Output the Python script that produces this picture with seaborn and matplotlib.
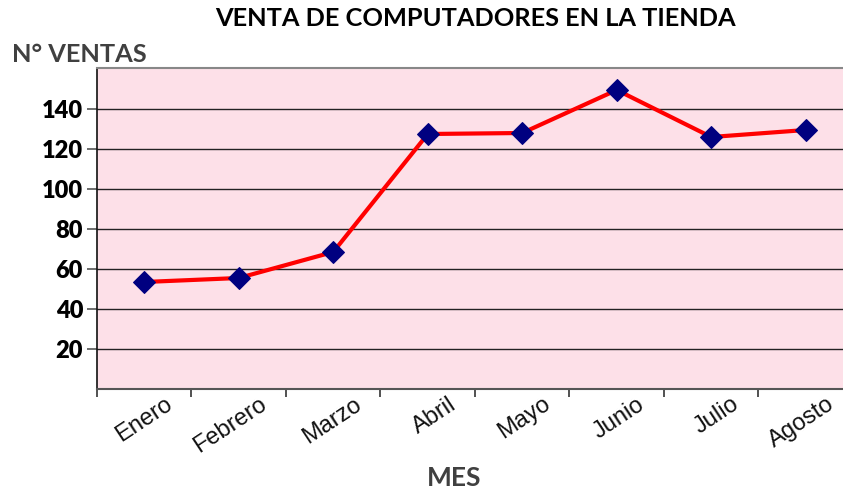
import matplotlib
matplotlib.use("Agg")
import matplotlib.pyplot as plt
import matplotlib.transforms as mtransforms
from matplotlib.ticker import FixedLocator
import seaborn as sns
import pandas as pd

meses = ["Enero", "Febrero", "Marzo", "Abril", "Mayo", "Junio", "Julio", "Agosto"]
ventas = [53.5, 55.5, 68.5, 127.5, 128, 149.5, 126, 129.5]
y_ticks = [20, 40, 60, 80, 100, 120, 140]

df = pd.DataFrame({"mes": meses, "ventas": ventas})

sns.set_theme(style="white")
plt.rcParams["font.family"] = ["Lato", "DejaVu Sans"]

fig = plt.figure(figsize=(8.43, 4.93), dpi=100)
ax = fig.add_axes([97 / 843, 104 / 493, 1 - 97 / 843, (389 - 68) / 493])
ax.set_facecolor("#fde0e8")

sns.lineplot(data=df, x="mes", y="ventas", ax=ax, color="#ff0000", linewidth=3,
             marker="D", markersize=11, markerfacecolor="#000080",
             markeredgecolor="#000080", sort=False, zorder=3)

ax.set_ylim(0, 160.5)
ax.set_xlim(-0.5, 7.5 - 10 / 94.6)
ax.set_yticks(y_ticks)
ax.set_yticklabels([str(v) for v in y_ticks], fontsize=17, fontweight="heavy", color="black")
ax.yaxis.grid(True, color="#222222", linewidth=1)
ax.set_axisbelow(True)

ax.set_xticks(range(len(meses)))
ax.set_xticklabels(meses, rotation=33.5, ha="right", rotation_mode="anchor",
                   fontsize=17, family=["Liberation Sans", "DejaVu Sans"], color="#111111")
ax.xaxis.set_minor_locator(FixedLocator([i - 0.5 for i in range(len(meses) + 1)]))
ax.tick_params(axis="x", which="major", bottom=True, length=0, pad=3)
ax.tick_params(axis="x", which="minor", bottom=True, length=6, width=1.2, color="#333333", direction="out")
ax.tick_params(axis="y", length=7, width=1.2, color="#555555", direction="out", left=True, pad=3)
offset = mtransforms.ScaledTranslation(20 / 100, 0, fig.dpi_scale_trans)
for lbl in ax.get_xticklabels():
    lbl.set_transform(lbl.get_transform() + offset)

ax.spines["left"].set_color("#111111")
ax.spines["left"].set_linewidth(1.2)
ax.spines["bottom"].set_color("#555555")
ax.spines["bottom"].set_linewidth(1.5)
ax.spines["top"].set_color("#888888")
ax.spines["top"].set_linewidth(1.5)
ax.spines["right"].set_visible(False)

ax.set_xlabel("")
ax.set_ylabel("")

fig.text(475 / 843, 1 - 18 / 493, "VENTA DE COMPUTADORES EN LA TIENDA", ha="center", va="center",
         fontsize=18.3, fontweight="bold", color="black")
fig.text(12 / 843, 1 - 54 / 493, "N° VENTAS", ha="left", va="center",
         fontsize=18.3, fontweight="bold", color="#404040")
fig.text(454 / 843, 1 - 478 / 493, "MES", ha="center", va="center",
         fontsize=19, fontweight="bold", color="#404040")

fig.savefig("out.png", dpi=100)
